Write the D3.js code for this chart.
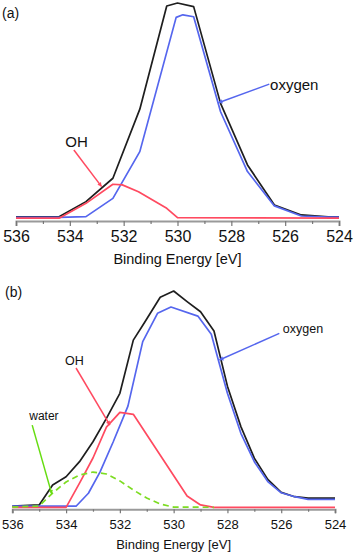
<!DOCTYPE html>
<html><head><meta charset="utf-8">
<script src="https://cdn.jsdelivr.net/npm/d3@7"></script>
<style>
html,body{margin:0;padding:0;background:#fff;}
svg{display:block;font-family:"Liberation Sans",Arial,sans-serif;}
</style></head>
<body>
<svg id="chart" width="354" height="556"></svg>
<script>
// ---------- data (binding energy in eV, intensity in arbitrary units, peak = 100) ----------
const tickEnergies = [536, 534, 532, 530, 528, 526, 524];
const minorTickEnergies = [535, 533, 531, 529, 527, 525];
const axisTitle = "Binding Energy [eV]";

// panel (a)
const aEnergyTotal  = [536, 534.4, 533.4, 532.4, 531.4, 530.4, 530.0, 529.4, 528.4, 527.4, 526.4, 525.4, 524.4, 524];
const aTotal        = [0.3, 0.3, 7.4, 18.3, 50.5, 98.6, 100, 98.3, 53.2, 24.5, 5.8, 1.2, 0.3, 0.3];
const aEnergyOxygen = [536, 534.4, 533.4, 532.4, 531.4, 530.05, 529.8, 529.4, 528.4, 527.4, 526.4, 525.4, 524.4, 524];
const aOxygen       = [0.1, 0.1, 0.4, 8.9, 30.7, 93.3, 94.5, 93.6, 49.3, 21.4, 5.4, 0.7, 0.2, 0.2];
const aEnergyOH     = [536, 534.4, 533.4, 532.4, 532.05, 531.45, 530.4, 530.0, 524];
const aOH           = [-0.3, -0.3, 6.6, 15.5, 15.2, 12.0, 4.3, -0.1, -0.3];

// panel (b)
const bEnergyTotal  = [536, 535, 534.5, 534, 533.5, 533, 532.5, 532, 531.5, 531.1, 530.5, 530, 529.5, 529, 528.5, 528, 527.5, 527, 526.5, 526, 525.5, 525, 524];
const bTotal        = [0.6, 1.1, 10.3, 14.1, 21.1, 30.3, 41.1, 52.7, 77.3, 85.1, 97.1, 100, 95.1, 90.4, 81.5, 56, 37.3, 22.7, 12.9, 6.9, 4.9, 4.2, 4.2];
const bEnergyOxygen = [536, 533.63, 533.17, 532.74, 532.25, 531.7, 531.15, 530.6, 530.1, 529.1, 528.6, 528, 527.5, 527, 526.5, 526, 525.5, 525, 524];
const bOxygen       = [0.5, 0.5, 6.5, 16.3, 30.2, 46.8, 76.6, 89.7, 92.6, 88.4, 80.0, 52.7, 34.2, 21.1, 11.9, 6.7, 4.9, 3.7, 3.7];
const bEnergyOH     = [536, 534, 533.5, 533, 532.5, 532, 531.5, 529.5, 529, 528.5, 524];
const bOH           = [0, 0, 11.2, 22.8, 37.1, 43.9, 43.0, 5.2, 1.1, 0, 0];
const bEnergyWater  = [536, 535, 534.5, 534, 533.5, 533, 532.5, 532, 531.5, 531, 530.5, 530, 528.5];
const bWater        = [0.1, 0.6, 6.6, 11.7, 14.9, 16.3, 15.4, 12.2, 8.0, 4.3, 1.5, 0.1, 0];

// annotations: [label, textEnergy, textIntensity, fromEnergy, fromIntensity, toEnergy, toIntensity]
const aLabels = [
  ["oxygen", 526.56, 59.4, 526.59, 62.2, 528.48, 53.5],
  ["OH", 534.17, 33.0, 533.85, 31.5, 532.82, 14.4]
];
const bLabels = [
  ["oxygen", 525.94, 80.7, 526.07, 80.4, 528.30, 68.1],
  ["OH", 534.04, 65.8, 533.63, 64.4, 532.37, 38.0],
  ["water", 535.37, 40.4, 535.26, 38.0, 534.53, 6.1]
];

// ---------- styles ----------
const C = {total:"#1e1e1e", oxygen:"#5566ee", OH:"#ff4a60", water:"#7ddc22", waterLead:"#66dd11", axis:"#9a9a9a"};

const svg = d3.select("#chart");

function zip(xs, ys){ return xs.map((e,i)=>[e, ys[i]]); }

function panel(cfg){
  const g = svg.append("g");
  const x = d3.scaleLinear().domain([536, 524]).range(cfg.xr);
  const y = d3.scaleLinear().domain([0, 100]).range(cfg.yr);
  const line = d3.line().x(d=>x(d[0])).y(d=>y(d[1]));

  // axis
  const ax = g.append("g").attr("transform", `translate(0,${cfg.axisY})`)
    .call(d3.axisBottom(x).tickValues(tickEnergies).tickSize(cfg.tick).tickPadding(cfg.pad).tickFormat(d3.format("d")));
  ax.select(".domain").attr("stroke", C.axis).attr("stroke-width", 2);
  ax.selectAll(".tick line").attr("stroke", "#777").attr("stroke-width", 1.2);
  ax.selectAll(".tick text").attr("fill", "#111").attr("font-size", cfg.tickFont).attr("font-family", "Liberation Sans, Arial, sans-serif");
  const axm = g.append("g").attr("transform", `translate(0,${cfg.axisY})`)
    .call(d3.axisBottom(x).tickValues(minorTickEnergies).tickSize(cfg.tick*0.6).tickFormat(""));
  axm.select(".domain").remove();
  axm.selectAll(".tick line").attr("stroke", "#777").attr("stroke-width", 1.2);

  g.append("text").attr("x", (x(536)+x(524))/2).attr("y", cfg.titleY)
    .attr("text-anchor", "middle").attr("font-size", cfg.titleFont).attr("fill", "#111").text(axisTitle);

  g.append("text").attr("x", cfg.tagX).attr("y", cfg.tagY).attr("font-size", 14).attr("fill", "#111").text(cfg.tag);

  // series
  cfg.series.forEach(s=>{
    g.append("path").datum(s.data).attr("d", line).attr("fill", "none")
      .attr("stroke", s.color).attr("stroke-width", 1.7).attr("stroke-linejoin", "round")
      .attr("stroke-dasharray", s.dash || null);
  });

  // annotations
  cfg.labels.forEach(l=>{
    const col = cfg.labelColors[l[0]];
    const x1 = x(l[3]), y1 = y(l[4]), x2 = x(l[5]), y2 = y(l[6]);
    g.append("line").attr("x1", x1).attr("y1", y1).attr("x2", x2).attr("y2", y2)
      .attr("stroke", col).attr("stroke-width", 1.5);
    const ang = Math.atan2(y2-y1, x2-x1), h = 4, w = 2.2;
    const p = [[x2, y2],
      [x2 - h*Math.cos(ang) + w*Math.sin(ang), y2 - h*Math.sin(ang) - w*Math.cos(ang)],
      [x2 - h*Math.cos(ang) - w*Math.sin(ang), y2 - h*Math.sin(ang) + w*Math.cos(ang)]];
    g.append("path").attr("d", "M" + p.join("L") + "Z").attr("fill", col);
    g.append("text").attr("x", x(l[1])).attr("y", y(l[2])).attr("font-size", cfg.labelFont(l[0]))
      .attr("fill", "#111").text(l[0]);
  });
}

panel({
  xr:[16, 339], yr:[217.5, 3], axisY:221, tick:5, pad:5, tickFont:16,
  titleY:264.3, titleFont:14.5, tag:"(a)", tagX:2, tagY:18,
  series:[
    {data:zip(aEnergyTotal, aTotal), color:C.total},
    {data:zip(aEnergyOxygen, aOxygen), color:C.oxygen},
    {data:zip(aEnergyOH, aOH), color:C.OH}
  ],
  labels:aLabels,
  labelColors:{oxygen:C.oxygen, OH:C.OH},
  labelFont:()=>15
});

panel({
  xr:[12.3, 335], yr:[507.3, 291], axisY:509.3, tick:4, pad:6, tickFont:13,
  titleY:549.3, titleFont:13, tag:"(b)", tagX:5, tagY:297,
  series:[
    {data:zip(bEnergyTotal, bTotal), color:C.total},
    {data:zip(bEnergyOxygen, bOxygen), color:C.oxygen},
    {data:zip(bEnergyOH, bOH), color:C.OH},
    {data:zip(bEnergyWater, bWater), color:C.water, dash:"6,4"}
  ],
  labels:bLabels,
  labelColors:{oxygen:C.oxygen, OH:C.OH, water:C.waterLead},
  labelFont:(t)=> t==="water" ? 12 : 12.5
});
</script>
</body></html>
